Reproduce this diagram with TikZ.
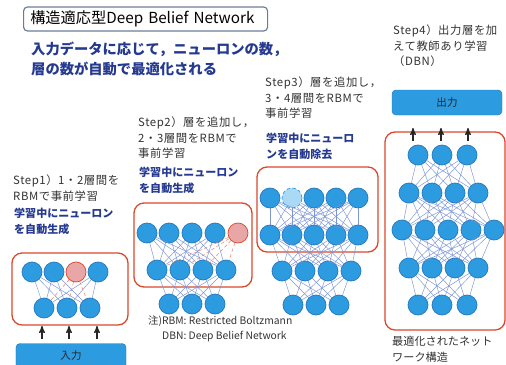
\documentclass[tikz,border=0pt]{standalone}
\usepackage{fontspec}
\setmainfont{Noto Sans CJK JP}
\usetikzlibrary{arrows}

\definecolor{nblue}{HTML}{2D9BE0}
\definecolor{nedge}{HTML}{2478BE}
\definecolor{linkc}{HTML}{7C93D6}
\definecolor{boxred}{HTML}{D9482B}
\definecolor{nred}{HTML}{E9A6A6}
\definecolor{nfade}{HTML}{AAD9F5}
\definecolor{navy}{HTML}{24398F}
\definecolor{titlec}{HTML}{6B7C9A}

\begin{document}
\begin{tikzpicture}[x=0.03cm,y=-0.03cm,>=stealth',
  neuron/.style={circle,draw=nedge,fill=nblue,line width=0.6pt,minimum size=0.6cm,inner sep=0pt},
  newneuron/.style={neuron,draw=boxred,fill=nred},
  fadeneuron/.style={neuron,draw=nblue,fill=nfade,densely dashed},
  link/.style={draw=linkc,line width=0.4pt},
  newlink/.style={draw=boxred!70,line width=0.4pt,densely dashed},
  stepbox/.style={draw=boxred,line width=1.1pt,rounded corners=0.3cm},
  iobox/.style={draw=nedge,fill=nblue,rounded corners=0.12cm,minimum width=3.3cm,minimum height=0.75cm,font=\fontsize{9}{11}\selectfont,text=black!85},
  steptext/.style={anchor=north west,align=left,inner sep=0pt,font=\fontsize{9.7}{13.2}\selectfont\addfontfeatures{LetterSpace=5},text=black!80},
  captext/.style={anchor=north west,align=left,inner sep=0pt,font=\fontsize{9.5}{13.2}\selectfont,text=black!80},
  bluetext/.style={anchor=north west,align=left,inner sep=0pt,font=\bfseries\fontsize{9.4}{13.2}\selectfont,text=navy},
  uparrow/.style={->,line width=1.1pt,black!85}]
\useasboundingbox (0,0) rectangle (506,364);

% header
\node[draw=titlec,line width=1pt,rounded corners=0.12cm,anchor=west,minimum height=0.72cm,inner xsep=0.2cm,
  text width=6.92cm,align=left,font=\fontsize{13}{14}\selectfont] (title) at (23,19) {構造適応型Deep Belief Network};
\node[anchor=north west,align=left,inner sep=0pt,font=\bfseries\fontsize{12.2}{16.5}\selectfont,text=navy] (lead) at (31,42)
  {入力データに応じて，ニューロンの数，\\層の数が自動で最適化される};

% step texts
\node[steptext] (step1) at (13,175) {Step1）1・2層間を\\RBMで事前学習};
\node[bluetext] (gen1) at (14,208) {学習中にニューロン\\を自動生成};
\node[steptext] (step2) at (138,117) {Step2）層を追加し，\\2・3層間をRBMで\\事前学習};
\node[bluetext] (gen2) at (139,167) {学習中にニューロン\\を自動生成};
\node[steptext] (step3) at (265,77) {Step3）層を追加し，\\3・4層間をRBMで\\事前学習};
\node[bluetext] (del3) at (266,133) {学習中にニューロ\\ンを自動除去};
\node[steptext] (step4) at (393,25) {Step4）出力層を加\\えて教師あり学習\\（DBN）};
\node[captext] (result) at (392,336) {最適化されたネット\\ワーク構造};
\node[captext,font=\fontsize{8.8}{12.5}\selectfont] (note) at (148,316)
  {注)RBM: Restricted Boltzmann\\\hspace{0.42cm}DBN: Deep Belief Network};

% boxes
\node[stepbox,minimum width=3.48cm,minimum height=2.16cm] (box1) at (70,289) {};
\node[stepbox,minimum width=3.54cm,minimum height=2.52cm] (box2) at (193,245) {};
\node[stepbox,minimum width=3.63cm,minimum height=2.55cm] (box3) at (317.5,209.5) {};
\node[stepbox,minimum width=3.6cm,minimum height=5.94cm] (box4) at (445,231) {};
\node[iobox] (input) at (71,356) {入力};
\node[iobox] (output) at (447,102.5) {出力};

% step 1
\foreach \x/\s [count=\c] in {32/neuron,54/neuron,76/newneuron,98/neuron}
  \node[\s] (s1r1c\c) at (\x,272) {};
\foreach \x [count=\c] in {44,67,90}
  \node[neuron] (s1r2c\c) at (\x,308) {};
\foreach \i in {1,2,4} \foreach \j in {1,2,3} \draw[link] (s1r1c\i) -- (s1r2c\j);
\foreach \j in {1,2,3} \draw[newlink] (s1r1c3) -- (s1r2c\j);

% step 2
\foreach \x/\s [count=\c] in {147/neuron,169/neuron,192/neuron,215/neuron,238/newneuron}
  \node[\s] (s2r1c\c) at (\x,233) {};
\foreach \x [count=\c] in {157,180,203,226}
  \node[neuron] (s2r2c\c) at (\x,270) {};
\foreach \x [count=\c] in {169,192,215}
  \node[neuron] (s2r3c\c) at (\x,304) {};
\foreach \i in {1,...,4} \foreach \j in {1,...,4} \draw[link] (s2r1c\i) -- (s2r2c\j);
\foreach \j in {1,...,4} \draw[newlink] (s2r1c5) -- (s2r2c\j);
\foreach \i in {1,...,4} \foreach \j in {1,...,3} \draw[link] (s2r2c\i) -- (s2r3c\j);

% step 3
\foreach \x/\s [count=\c] in {270/neuron,292/fadeneuron,314/neuron,336/neuron,358/neuron}
  \node[\s] (s3r1c\c) at (\x,198) {};
\foreach \x [count=\c] in {270,292,314,336,358}
  \node[neuron] (s3r2c\c) at (\x,235) {};
\foreach \x [count=\c] in {282,305,328,351}
  \node[neuron] (s3r3c\c) at (\x,271) {};
\foreach \x [count=\c] in {293,316,339}
  \node[neuron] (s3r4c\c) at (\x,305) {};
\foreach \i in {1,...,5} \foreach \j in {1,...,5} \draw[link] (s3r1c\i) -- (s3r2c\j);
\foreach \i in {1,...,5} \foreach \j in {1,...,4} \draw[link] (s3r2c\i) -- (s3r3c\j);
\foreach \i in {1,...,4} \foreach \j in {1,...,3} \draw[link] (s3r3c\i) -- (s3r4c\j);

% step 4
\foreach \x [count=\c] in {418,442,467}
  \node[neuron] (s4r1c\c) at (\x,155) {};
\foreach \x [count=\c] in {409,432,455,478}
  \node[neuron] (s4r2c\c) at (\x,193) {};
\foreach \x [count=\c] in {402,425,448,471,494}
  \node[neuron] (s4r3c\c) at (\x,230) {};
\foreach \x [count=\c] in {409,432,455,478}
  \node[neuron] (s4r4c\c) at (\x,268) {};
\foreach \x [count=\c] in {418,442,467}
  \node[neuron] (s4r5c\c) at (\x,305) {};
\foreach \i in {1,...,3} \foreach \j in {1,...,4} \draw[link] (s4r1c\i) -- (s4r2c\j);
\foreach \i in {1,...,4} \foreach \j in {1,...,5} \draw[link] (s4r2c\i) -- (s4r3c\j);
\foreach \i in {1,...,5} \foreach \j in {1,...,4} \draw[link] (s4r3c\i) -- (s4r4c\j);
\foreach \i in {1,...,4} \foreach \j in {1,...,3} \draw[link] (s4r4c\i) -- (s4r5c\j);

% arrows
\foreach \x [count=\c] in {42,69,97} {
  \coordinate (in\c) at (\x,339);
  \coordinate (up\c) at (\x,326);
  \draw[uparrow] (in\c) -- (up\c);
}
\foreach \x [count=\c] in {413,441,468} {
  \coordinate (top\c) at (\x,141);
  \coordinate (out\c) at (\x,128);
  \draw[uparrow] (top\c) -- (out\c);
}
\end{tikzpicture}
\end{document}
